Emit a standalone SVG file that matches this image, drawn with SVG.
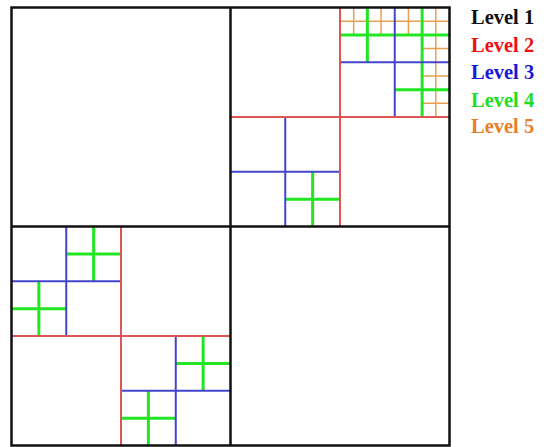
<svg xmlns="http://www.w3.org/2000/svg" width="544" height="447" viewBox="0 0 544 447">
<style>
.l1{stroke:#111;stroke-width:2.5;fill:none}
.l2{stroke:#dd5555;stroke-width:2;fill:none}
.l3{stroke:#4444cc;stroke-width:2;fill:none}
.l4{stroke:#22e622;stroke-width:3;fill:none}
.l5{stroke:#e8a050;stroke-width:1.5;fill:none}
.lg{font-family:"Liberation Serif","Times New Roman",serif;font-weight:bold;font-size:20.5px}
</style>
<rect width="544" height="447" fill="#fff"/>
<g id="level5">
<path class="l5" d="M353.69 7.5V34.875M381.06 7.5V34.875M340 21.19H394.75"/>
<path class="l5" d="M408.44 7.5V34.875M394.75 21.19H449.5M435.81 7.5V62.25M422.125 48.56H449.5"/>
<path class="l5" d="M435.81 62.25V117M422.125 75.94H449.5M422.125 103.31H449.5"/>
</g>
<g id="level4">
<path class="l4" d="M367.375 7.5V62.25M340 34.875H449.5M422.125 7.5V117M394.75 89.625H449.5"/>
<path class="l4" d="M312.625 171.75V226.5M285.25 199.125H340"/>
<path class="l4" d="M93.625 226.5V281.25M66.25 253.875H121M38.875 281.25V336M11.5 308.625H66.25"/>
<path class="l4" d="M203.125 336V390.75M175.75 363.375H230.5M148.375 390.75V445.5M121 418.125H175.75"/>
</g>
<g id="level3">
<path class="l3" d="M394.75 7.5V117M340 62.25H449.5"/>
<path class="l3" d="M285.25 117V226.5M230.5 171.75H340"/>
<path class="l3" d="M66.25 226.5V336M11.5 281.25H121"/>
<path class="l3" d="M175.75 336V445.5M121 390.75H230.5"/>
</g>
<g id="level2">
<path class="l2" d="M340 7.5V226.5M230.5 117H449.5"/>
<path class="l2" d="M121 226.5V445.5M11.5 336H230.5"/>
</g>
<g id="level1">
<rect class="l1" x="11.5" y="7.5" width="438" height="438" stroke-width="3"/>
<path class="l1" d="M230.5 7.5V445.5M11.5 226.5H449.5"/>
</g>
<g id="legend">
<text class="lg" x="471" y="24" fill="#111">Level 1</text>
<text class="lg" x="471" y="51.5" fill="#ee1111">Level 2</text>
<text class="lg" x="471" y="79" fill="#1a1ad6">Level 3</text>
<text class="lg" x="471" y="106.5" fill="#22dd22">Level 4</text>
<text class="lg" x="471" y="133" fill="#e8802a">Level 5</text>
</g>
</svg>
